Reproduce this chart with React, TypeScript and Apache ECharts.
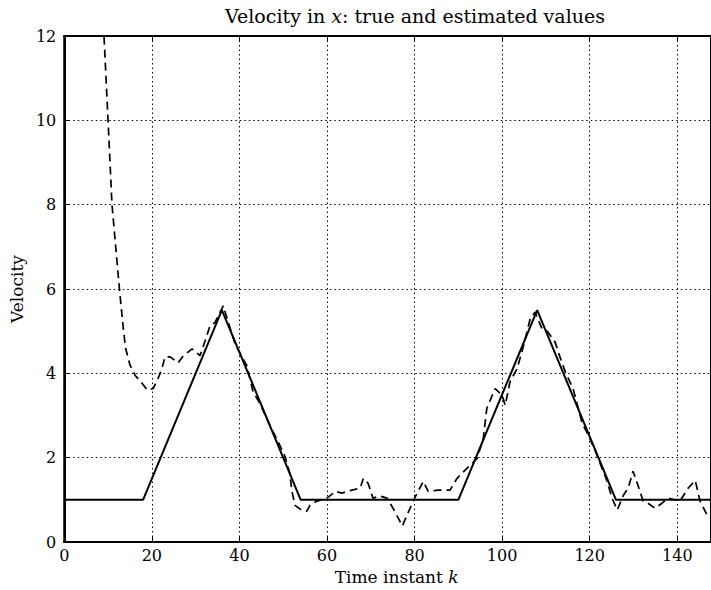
import React, { useEffect, useRef } from "react";
import * as echarts from "echarts";

const xTicks = [0, 20, 40, 60, 80, 100, 120, 140];
const yTicks = [0, 2, 4, 6, 8, 10, 12];

// true velocity: breakpoints [k, v]
const trueVelocity: [number, number][] = [
  [0, 1], [18, 1], [36, 5.5], [54, 1], [90, 1], [108, 5.5], [126, 1], [148, 1],
];

// estimated velocity [k, v]
const estimatedVelocity: [number, number][] = [
  [8.8, 12.6], [10, 10.0], [10.9, 8.0], [12.6, 6.0], [13.5, 5.05], [14, 4.6], [15, 4.2],
  [16.2, 3.95], [17.8, 3.76], [19, 3.6], [20.3, 3.64], [21.4, 3.87], [22.3, 4.11],
  [23, 4.39], [24.2, 4.39], [26, 4.25], [27.2, 4.42], [29.2, 4.58], [31, 4.42],
  [32.1, 4.75], [33.3, 5.13], [34.4, 5.2], [36.3, 5.6], [37.5, 5.2], [39, 4.7],
  [40.8, 4.35], [41.7, 4.18], [43.1, 3.57], [44.7, 3.28], [47, 2.76], [48.8, 2.39],
  [50.4, 2.03], [51.5, 1.63], [52, 1.2], [52.7, 0.87], [54.3, 0.75], [55.4, 0.73],
  [56.1, 0.87], [57.7, 0.97], [60, 1.04], [61.9, 1.2], [63.4, 1.16], [65.7, 1.23],
  [67.6, 1.28], [68.3, 1.51], [69.4, 1.39], [70.5, 1.04], [72.1, 1.09], [73.7, 1.04],
  [75.1, 0.8], [77.2, 0.38], [78.5, 0.69], [80, 1.04], [82, 1.44], [83.1, 1.2],
  [85.4, 1.23], [88.1, 1.23], [89.7, 1.51], [92, 1.75], [94.3, 1.98], [95.7, 2.46],
  [96.5, 3.17], [98.4, 3.64], [100, 3.48], [100.7, 3.24], [101.8, 3.8], [103.4, 4.11],
  [104.6, 4.54], [106.4, 5.29], [107.5, 5.45], [109.1, 5.06], [110.3, 5.0], [112.1, 4.74],
  [113.2, 4.39], [114.4, 4.04], [116.2, 3.64], [118.3, 2.81], [119.7, 2.53], [121.3, 2.15],
  [123.9, 1.46], [125.1, 1.04], [126.3, 0.76], [127.7, 1.11], [128.8, 1.28], [129.9, 1.68],
  [131, 1.35], [132.2, 0.97], [133.3, 0.92], [134.9, 0.8], [136.5, 0.92], [137.9, 1.04],
  [140.6, 0.97], [142.5, 1.28], [144.1, 1.46], [145.2, 0.97], [146.8, 0.64], [148, 0.65],
];

const FONT = "DejaVu Serif";

export default function App() {
  const ref = useRef<HTMLDivElement>(null);
  useEffect(() => {
    if (!ref.current) return;
    const chart = echarts.init(ref.current, null, { renderer: "svg" });
    const gridStyle = { color: "#000", width: 1, type: [1.5, 3] as number[] };
    chart.setOption({
      animation: false,
      backgroundColor: "#fff",
      title: {
        text: "Velocity in {i|x}: true and estimated values",
        left: 410,
        top: 1,
        textAlign: "center",
        textStyle: {
          fontFamily: FONT,
          fontSize: 19,
          fontWeight: "normal",
          color: "#000",
          rich: { i: { fontFamily: FONT, fontSize: 19, fontStyle: "italic", color: "#000" } },
        },
      },
      grid: {
        left: 64,
        top: 36,
        bottom: 44,
        right: -1,
        show: true,
        borderColor: "#000",
        borderWidth: 2,
        backgroundColor: "transparent",
      },
      xAxis: [
        {
          type: "value",
          min: 0,
          max: 147.7,
          interval: 20,
          name: "Time instant {i|k}",
          nameLocation: "middle",
          nameGap: 26,
          nameTextStyle: {
            fontFamily: FONT,
            fontSize: 17,
            color: "#000",
            padding: [0, 0, 0, 18],
            rich: { i: { fontFamily: FONT, fontSize: 17, fontStyle: "italic", color: "#000" } },
          },
          axisLine: { show: true, lineStyle: { color: "#000", width: 2 } },
          axisTick: { show: true, inside: true, length: 5, lineStyle: { color: "#000" } },
          axisLabel: {
            fontFamily: FONT,
            fontSize: 16,
            color: "#000",
            margin: 5,
            showMaxLabel: false,
            formatter: (v: number) => (xTicks.includes(v) ? String(v) : ""),
          },
          splitLine: { show: true, lineStyle: gridStyle },
        },
        {
          type: "value",
          position: "top",
          min: 0,
          max: 147.7,
          interval: 20,
          axisLine: { show: true, lineStyle: { color: "#000", width: 2 } },
          axisTick: { show: true, inside: true, length: 5, lineStyle: { color: "#000" } },
          axisLabel: { show: false },
          splitLine: { show: false },
        },
      ],
      yAxis: {
        type: "value",
        min: 0,
        max: 12,
        interval: 2,
        name: "Velocity",
        nameLocation: "middle",
        nameGap: 36,
        nameTextStyle: { fontFamily: FONT, fontSize: 17, color: "#000" },
        axisLine: { show: true, lineStyle: { color: "#000", width: 2 } },
        axisTick: { show: true, inside: true, length: 5, lineStyle: { color: "#000" } },
        axisLabel: {
          fontFamily: FONT,
          fontSize: 16,
          color: "#000",
          margin: 8,
          formatter: (v: number) => (yTicks.includes(v) ? String(v) : ""),
        },
        splitLine: { show: true, lineStyle: gridStyle },
      },
      series: [
        {
          type: "line",
          data: trueVelocity,
          showSymbol: false,
          clip: true,
          lineStyle: { color: "#000", width: 2, type: "solid" },
          z: 3,
        },
        {
          type: "line",
          data: estimatedVelocity,
          showSymbol: false,
          clip: true,
          lineStyle: { color: "#000", width: 1.7, type: [8, 5] },
          z: 4,
        },
      ],
    });
    return () => chart.dispose();
  }, []);
  return <div ref={ref} style={{ width: 711, height: 590, position: "absolute", left: 0, top: 0 }} />;
}
